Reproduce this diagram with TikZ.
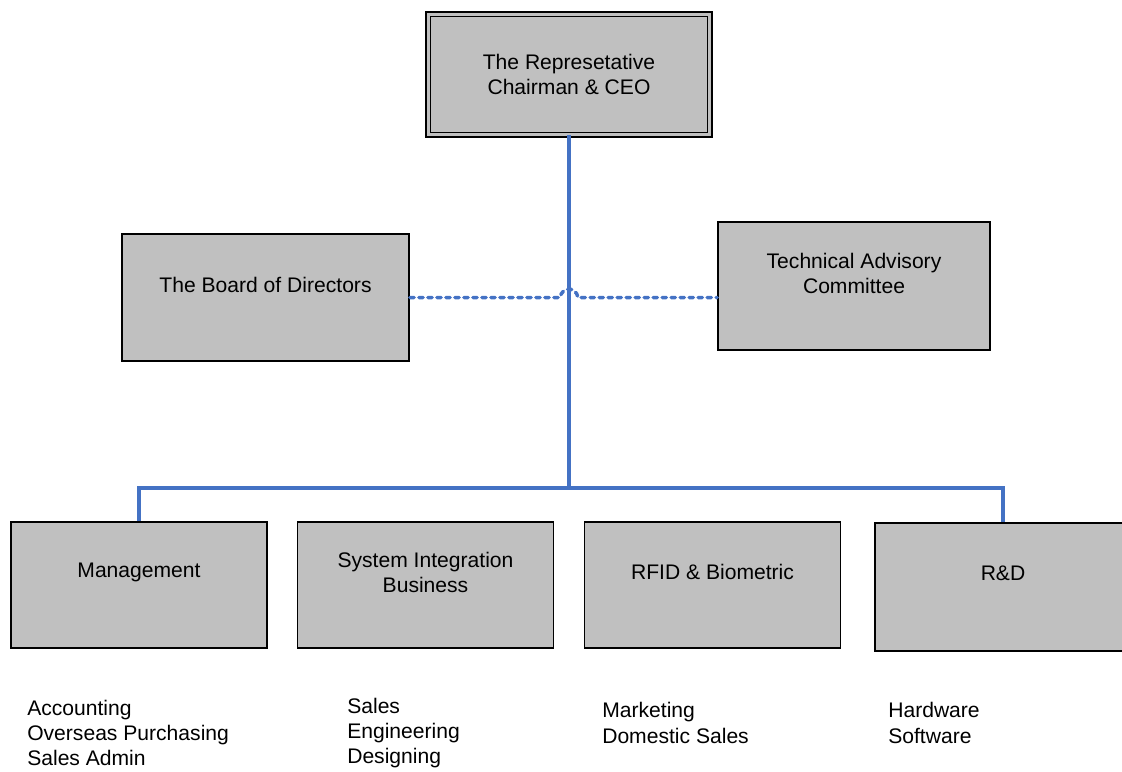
\documentclass[tikz,border=0pt]{standalone}
\usepackage{fontspec}
\setmainfont{Liberation Sans}
\definecolor{boxgray}{HTML}{C0C0C0}
\definecolor{linkblue}{HTML}{4472C4}
\tikzset{
  unit/.style={draw=black, fill=boxgray, line width=1.3pt, inner sep=0pt,
    minimum width=6.4cm, minimum height=3.15cm},
  caption/.style={align=center, inner sep=0pt, font=\fontsize{15}{18}\selectfont},
  duties/.style={align=left, anchor=west, inner sep=0pt, font=\fontsize{15}{18}\selectfont},
  link/.style={draw=linkblue, line width=2.5pt},
  dotlink/.style={link, line cap=round, dash pattern=on 3pt off 3.4pt}
}
\begin{document}
\begin{tikzpicture}[x=0.025cm, y=-0.025cm]
  \useasboundingbox (0,0) rectangle (1122,771);
  % top of the chart
  \node[unit, line width=1.1pt, double=boxgray, double distance=2pt,
    minimum width=7.03cm, minimum height=3.01cm] (ceo) at (569,74.5) {};
  \node[caption] (ceo-txt) at (ceo.center) {The Represetative\\Chairman \& CEO};
  \node[unit, minimum width=7.175cm, minimum height=3.175cm] (board) at (265.5,297.5) {};
  \node[caption] (board-txt) at ([yshift=9pt]board.center) {The Board of Directors};
  \node[unit, minimum width=6.8cm, minimum height=3.2cm] (tech) at (854,286) {};
  \node[caption] (tech-txt) at ([yshift=9pt]tech.center) {Technical Advisory\\Committee};
  % divisions
  \node[unit] (mgmt) at (139,585) {};
  \node[unit] (sysint) at (425.5,585) {};
  \node[unit] (rfid) at (712.5,585) {};
  \node[unit, minimum height=3.2cm] (rnd) at (1003,587) {};
  \node[caption] (mgmt-txt) at ([yshift=9pt]mgmt.center) {Management};
  \node[caption] (sysint-txt) at ([yshift=9pt]sysint.center) {System Integration\\Business};
  \node[caption] (rfid-txt) at ([yshift=9pt]rfid.center) {RFID \& Biometric};
  \node[caption] (rnd-txt) at ([yshift=10pt]rnd.center) {R\&D};
  % what each division does
  \node[duties] (mgmt-list) at (27,733) {Accounting\\Overseas Purchasing\\Sales Admin};
  \node[duties] (sysint-list) at (347,733) {Sales\\Engineering\\Designing};
  \node[duties] (rfid-list) at (602,723) {Marketing\\Domestic Sales};
  \node[duties] (rnd-list) at (888,723) {Hardware\\Software};
  % lines
  \coordinate (split) at (ceo.south |- 0,488);
  \coordinate (hop) at (ceo.south |- board.east);
  \draw[link] (ceo.south) -- (split);
  \draw[link] (mgmt.north) |- (split) -| (rnd.north);
  \draw[dotlink] (board.east) -- ([xshift=-6.4pt]hop)
    .. controls +(1.5pt,8pt) and +(-1.5pt,8pt) .. ([xshift=6.4pt]hop)
    -- (tech.west |- board.east);
\end{tikzpicture}
\end{document}
